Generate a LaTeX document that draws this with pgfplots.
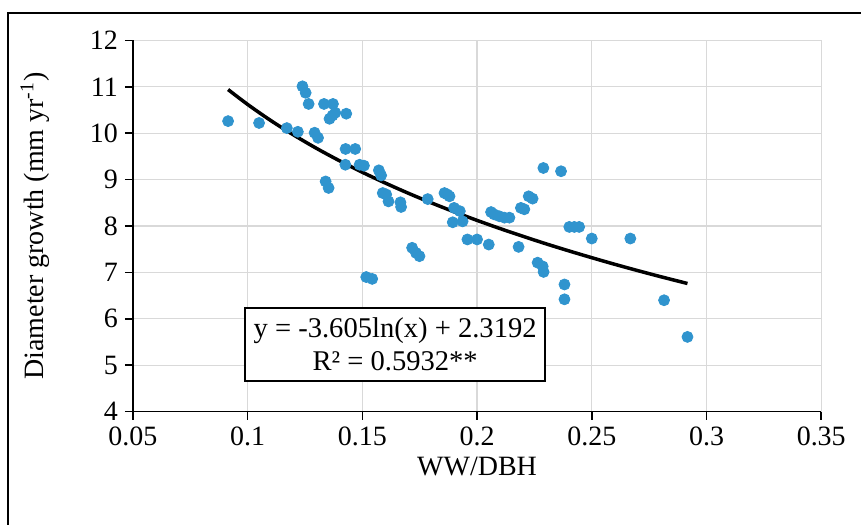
\documentclass[border=0pt]{standalone}
\usepackage{fontspec}
\setmainfont{Liberation Serif}
\usepackage{pgfplots}
\pgfplotsset{compat=1.18}
\definecolor{dotblue}{RGB}{48,148,206}
\definecolor{gridgray}{RGB}{217,217,217}
\begin{document}
\begin{tikzpicture}[x=0.5pt,y=0.5pt]
\path (0,0) rectangle (862,525);
\draw[line width=0.8pt] (8,0) -- (8,512) -- (862,512);
\begin{axis}[
  at={(66.5pt,56.5pt)}, anchor=south west,
  scale only axis, width=344.5pt, height=185.8pt,
  xmin=0.05, xmax=0.35, ymin=4, ymax=12,
  xtick={0.05,0.1,0.15,0.2,0.25,0.3,0.35},
  xticklabels={0.05,0.1,0.15,0.2,0.25,0.3,0.35},
  ytick={4,5,6,7,8,9,10,11,12},
  yticklabels={4,5,6,7,8,9,10,11,12},
  axis x line*=bottom, axis y line*=left,
  axis line style={line width=0.8pt, -},
  grid=major, major grid style={gridgray, line width=0.6pt},
  tick align=outside, major tick length=4pt,
  tick style={black, line width=0.8pt},
  ticklabel style={font=\fontsize{14}{16}\selectfont},
  label style={font=\fontsize{14}{16}\selectfont},
  xlabel={WW/DBH},
  ylabel={Diameter growth (mm yr\textsuperscript{-1})},
  xlabel style={at={(axis description cs:0.5,-0.148)}, anchor=center},
  ylabel style={at={(axis description cs:-0.142,0.5)}, anchor=center},
  clip=false,
]
\addplot[only marks, mark=*, mark size=2.75pt, color=dotblue, fill=dotblue] coordinates {
(0.0915,10.26) (0.105,10.22) (0.1239,11.01) (0.1253,10.87) (0.1266,10.63)
(0.1333,10.63) (0.1372,10.63) (0.1382,10.44) (0.1357,10.31) (0.1370,10.38)
(0.143,10.42) (0.1171,10.11) (0.1219,10.03) (0.1292,10.01) (0.1307,9.90)
(0.1427,9.66) (0.1469,9.66) (0.1426,9.32) (0.1488,9.32) (0.1507,9.30)
(0.134,8.96) (0.1353,8.82) (0.1572,9.20) (0.1582,9.09) (0.1589,8.71)
(0.1604,8.68) (0.1614,8.53) (0.1666,8.51) (0.1669,8.41) (0.1785,8.58)
(0.1858,8.71) (0.1870,8.68) (0.1880,8.64) (0.1900,8.39) (0.1925,8.32)
(0.1894,8.08) (0.1937,8.10) (0.1958,7.71) (0.2000,7.71) (0.2051,7.60)
(0.1717,7.53) (0.1734,7.42) (0.1749,7.35) (0.1517,6.90) (0.1543,6.86)
(0.2061,8.30) (0.2075,8.25) (0.2097,8.21) (0.2119,8.18) (0.2141,8.18)
(0.2181,7.55) (0.2191,8.39) (0.2206,8.36) (0.2225,8.64) (0.2242,8.59)
(0.2289,9.25) (0.2366,9.18) (0.2264,7.21) (0.2286,7.13) (0.2290,7.01)
(0.2402,7.98) (0.2424,7.98) (0.2445,7.98) (0.2500,7.73) (0.2381,6.74)
(0.2381,6.42) (0.2668,7.73) (0.2815,6.40) (0.2917,5.61)
};
\addplot[smooth, black, line width=1.75pt] coordinates {
(0.0915,10.940) (0.10,10.620) (0.11,10.276) (0.12,9.963) (0.13,9.674)
(0.14,9.407) (0.15,9.158) (0.16,8.926) (0.17,8.707) (0.18,8.501)
(0.19,8.306) (0.20,8.121) (0.21,7.945) (0.22,7.778) (0.23,7.617)
(0.24,7.464) (0.25,7.317) (0.26,7.175) (0.27,7.039) (0.28,6.908)
(0.2917,6.761)
};
\node[draw=black, line width=0.8pt, fill=white, align=center,
      minimum width=150pt, minimum height=36.7pt, inner sep=2pt,
      font=\fontsize{14.3}{16.7}\selectfont]
  at (axis cs:0.1643,5.449) {y = -3.605ln(x) + 2.3192\\R² = 0.5932**};
\end{axis}
\end{tikzpicture}
\end{document}
